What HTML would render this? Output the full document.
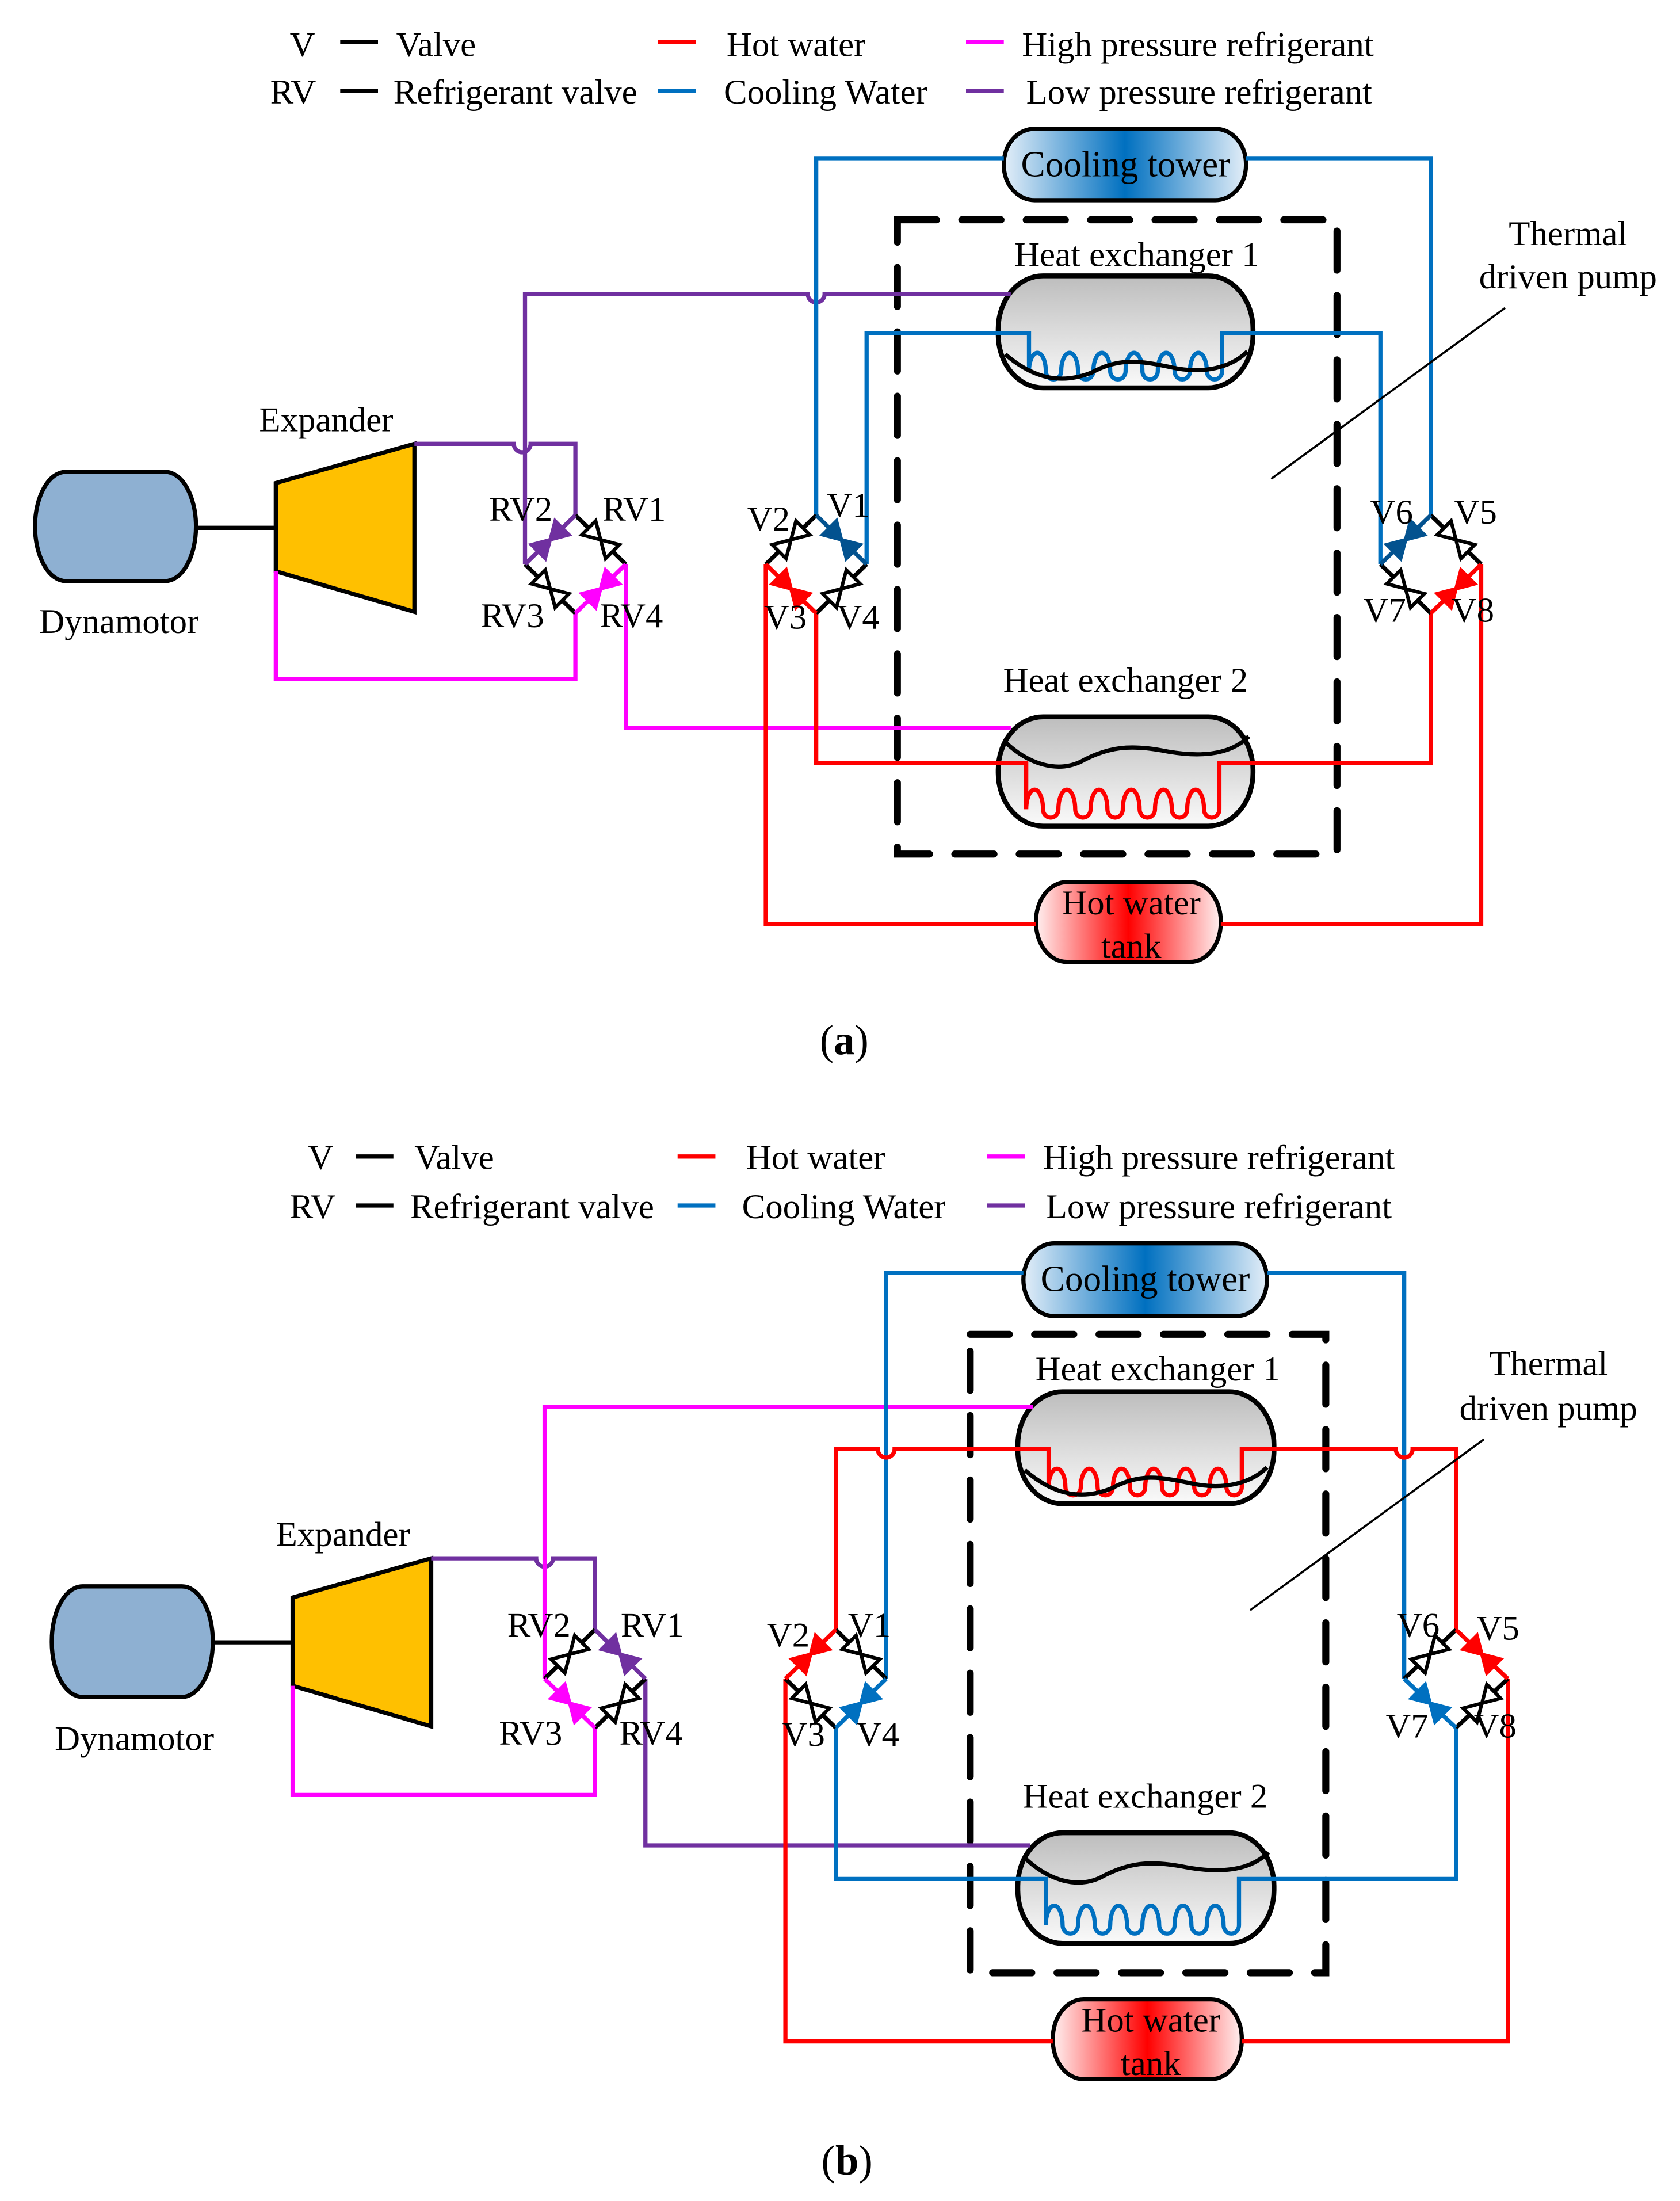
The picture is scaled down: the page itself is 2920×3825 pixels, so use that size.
<!DOCTYPE html>
<html><head><meta charset="utf-8"><style>html,body{margin:0;padding:0;background:#fff}svg{display:block}text{font-family:"Liberation Serif","Times New Roman",serif}</style></head>
<body>
<svg xmlns="http://www.w3.org/2000/svg" width="2920" height="3825" viewBox="0 0 1200 1572" preserveAspectRatio="none" font-size="25">
<defs>
<linearGradient id="ct" x1="0" x2="1" y1="0" y2="0"><stop offset="0" stop-color="#e3eef8"/><stop offset="0.5" stop-color="#0070c0"/><stop offset="1" stop-color="#e3eef8"/></linearGradient>
<linearGradient id="tk" x1="0" x2="1" y1="0" y2="0"><stop offset="0" stop-color="#fff0f0"/><stop offset="0.5" stop-color="#ff0000"/><stop offset="1" stop-color="#fff0f0"/></linearGradient>
<linearGradient id="hx" x1="0" x2="0" y1="0" y2="1"><stop offset="0" stop-color="#bdbdbd"/><stop offset="1" stop-color="#fafafa"/></linearGradient>
<path id="bow" d="M-12,-7 L0,0 L-12,7 Z M12,-7 L0,0 L12,7 Z"/>
</defs>
<rect width="1200" height="1572" fill="#fff"/>

<!-- ================= (a) ================= -->
<g>
<text x="207" y="40">V</text><text x="283" y="40">Valve</text>
<text x="193" y="74">RV</text><text x="281" y="74">Refrigerant valve</text>
<text x="519" y="40">Hot water</text><text x="517" y="74">Cooling Water</text>
<text x="730" y="40">High pressure refrigerant</text><text x="733" y="74">Low pressure refrigerant</text>
<g stroke-width="3"><line x1="243" y1="30" x2="270" y2="30" stroke="#000"/><line x1="243" y1="65" x2="270" y2="65" stroke="#000"/>
<line x1="470" y1="30" x2="497" y2="30" stroke="#ff0000"/><line x1="470" y1="65" x2="497" y2="65" stroke="#0070c0"/>
<line x1="690" y1="30" x2="717" y2="30" stroke="#ff00ff"/><line x1="690" y1="65" x2="717" y2="65" stroke="#7030a0"/></g>

<rect x="641" y="157" width="314" height="453" fill="none" stroke="#000" stroke-width="5" stroke-dasharray="28 18" stroke-linecap="round"/>

<rect x="25" y="337" width="115" height="78" rx="22" ry="39" fill="#8eb0d2" stroke="#000" stroke-width="3"/>
<line x1="140" y1="377" x2="197" y2="377" stroke="#000" stroke-width="3"/>
<polygon points="197,345 296,317 296,437 197,408" fill="#ffc000" stroke="#000" stroke-width="3"/>
<text x="233" y="308" text-anchor="middle">Expander</text>
<text x="85" y="452" text-anchor="middle">Dynamotor</text>
<rect x="717" y="92" width="173" height="51" rx="22" ry="25" fill="url(#ct)" stroke="#000" stroke-width="3"/>
<text x="804" y="126" text-anchor="middle" font-size="26">Cooling tower</text>
<rect x="713" y="197" width="182" height="80" rx="32" ry="38" fill="url(#hx)" stroke="#000" stroke-width="3.5"/>
<text x="812" y="190" text-anchor="middle">Heat exchanger 1</text>
<rect x="713" y="512" width="182" height="78" rx="32" ry="38" fill="url(#hx)" stroke="#000" stroke-width="3.5"/>
<text x="804" y="494" text-anchor="middle">Heat exchanger 2</text>
<rect x="740" y="630" width="132" height="57" rx="22" ry="28" fill="url(#tk)" stroke="#000" stroke-width="3"/>
<text x="808" y="653" text-anchor="middle">Hot water</text><text x="808" y="684" text-anchor="middle">tank</text>

<g fill="none" stroke-width="3">
<path stroke="#7030a0" d="M296,317 H367 a6,6 0 0 0 12,0 H411 V368"/>
<path stroke="#7030a0" d="M375,403 V210 H577 a6,6 0 0 0 12,0 H722"/>
<path stroke="#ff00ff" d="M197,408 V485 H411 V438"/>
<path stroke="#ff00ff" d="M447,403 V520 H722"/>
<path stroke="#0070c0" d="M717,113 H583 V368"/>
<path stroke="#0070c0" d="M890,113 H1022 V368"/>
<path stroke="#0070c0" d="M619,403 V238 H735 V265 a6,13 0 0 1 12,0 a5.5,6 0 0 0 11,0 a6,13 0 0 1 12,0 a5.5,6 0 0 0 11,0 a6,13 0 0 1 12,0 a5.5,6 0 0 0 11,0 a6,13 0 0 1 12,0 a5.5,6 0 0 0 11,0 a6,13 0 0 1 12,0 a5.5,6 0 0 0 11,0 a6,13 0 0 1 12,0 a5.5,6 0 0 0 11,0 V238 H986 V403"/>
<path stroke="#ff0000" d="M547,403 V660 H740"/>
<path stroke="#ff0000" d="M872,660 H1058 V403"/>
<path stroke="#ff0000" d="M583,438 V545 H733 V578 a6,14 0 0 1 12,0 a5.5,6 0 0 0 11,0 a6,14 0 0 1 12,0 a5.5,6 0 0 0 11,0 a6,14 0 0 1 12,0 a5.5,6 0 0 0 11,0 a6,14 0 0 1 12,0 a5.5,6 0 0 0 11,0 a6,14 0 0 1 12,0 a5.5,6 0 0 0 11,0 a6,14 0 0 1 12,0 a5.5,6 0 0 0 11,0 V545 H1022 V438"/>
<path stroke="#000" d="M718,253 C740,272 760,274 780,266 C800,255 815,258 835,262 C860,268 880,262 891,251"/>
<path stroke="#000" d="M718,530 C735,546 755,552 772,544 C792,533 808,532 830,536 C860,542 880,538 892,526"/>
</g>

<g stroke-width="3" fill="none" stroke="#000">
<path d="M411,368 L447,403 M375,403 L411,438"/>
<path stroke="#7030a0" d="M411,368 L375,403"/><path stroke="#ff00ff" d="M411,438 L447,403"/>
<path d="M583,368 L547,403 M583,438 L619,403"/>
<path stroke="#03528f" d="M583,368 L619,403"/><path stroke="#ff0000" d="M547,403 L583,438"/>
<path d="M1022,368 L1058,403 M986,403 L1022,438"/>
<path stroke="#03528f" d="M1022,368 L986,403"/><path stroke="#ff0000" d="M1022,438 L1058,403"/>
</g>
<g stroke-width="2.5" stroke-linejoin="miter">
<use href="#bow" transform="translate(393,385.5) rotate(135)" fill="#7030a0" stroke="#7030a0"/>
<use href="#bow" transform="translate(429,385.5) rotate(45)" fill="#fff" stroke="#000"/>
<use href="#bow" transform="translate(393,420.5) rotate(45)" fill="#fff" stroke="#000"/>
<use href="#bow" transform="translate(429,420.5) rotate(135)" fill="#ff00ff" stroke="#ff00ff"/>
<use href="#bow" transform="translate(565,385.5) rotate(135)" fill="#fff" stroke="#000"/>
<use href="#bow" transform="translate(601,385.5) rotate(45)" fill="#03528f" stroke="#03528f"/>
<use href="#bow" transform="translate(565,420.5) rotate(45)" fill="#ff0000" stroke="#ff0000"/>
<use href="#bow" transform="translate(601,420.5) rotate(135)" fill="#fff" stroke="#000"/>
<use href="#bow" transform="translate(1004,385.5) rotate(135)" fill="#03528f" stroke="#03528f"/>
<use href="#bow" transform="translate(1040,385.5) rotate(45)" fill="#fff" stroke="#000"/>
<use href="#bow" transform="translate(1004,420.5) rotate(45)" fill="#fff" stroke="#000"/>
<use href="#bow" transform="translate(1040,420.5) rotate(135)" fill="#ff0000" stroke="#ff0000"/>
</g>
<g text-anchor="middle">
<text x="372" y="372">RV2</text><text x="453" y="372">RV1</text><text x="366" y="448">RV3</text><text x="451" y="448">RV4</text>
<text x="549" y="379">V2</text><text x="606" y="369">V1</text><text x="561" y="449">V3</text><text x="613" y="449">V4</text>
<text x="994" y="374">V6</text><text x="1054" y="374">V5</text><text x="989" y="444">V7</text><text x="1052" y="444">V8</text>
<text x="1120" y="175">Thermal</text><text x="1120" y="206">driven pump</text>
</g>
<line x1="1075" y1="220" x2="908" y2="342" stroke="#000" stroke-width="1.5"/>
<text x="603" y="753" text-anchor="middle" font-size="30">(<tspan font-weight="bold">a</tspan>)</text>
</g>

<!-- ================= (b) ================= -->
<g>
<text x="220" y="835">V</text><text x="296" y="835">Valve</text>
<text x="207" y="870">RV</text><text x="293" y="870">Refrigerant valve</text>
<text x="533" y="835">Hot water</text><text x="530" y="870">Cooling Water</text>
<text x="745" y="835">High pressure refrigerant</text><text x="747" y="870">Low pressure refrigerant</text>
<g stroke-width="3"><line x1="254" y1="826" x2="281" y2="826" stroke="#000"/><line x1="254" y1="861" x2="281" y2="861" stroke="#000"/>
<line x1="484" y1="826" x2="511" y2="826" stroke="#ff0000"/><line x1="484" y1="861" x2="511" y2="861" stroke="#0070c0"/>
<line x1="705" y1="826" x2="732" y2="826" stroke="#ff00ff"/><line x1="705" y1="861" x2="732" y2="861" stroke="#7030a0"/></g>

<rect x="693" y="953" width="254" height="456" fill="none" stroke="#000" stroke-width="5" stroke-dasharray="28 18" stroke-linecap="round"/>

<rect x="37" y="1133" width="115" height="79" rx="22" ry="39" fill="#8eb0d2" stroke="#000" stroke-width="3"/>
<line x1="152" y1="1173" x2="209" y2="1173" stroke="#000" stroke-width="3"/>
<polygon points="209,1141 308,1113 308,1233 209,1204" fill="#ffc000" stroke="#000" stroke-width="3"/>
<text x="245" y="1104" text-anchor="middle">Expander</text>
<text x="96" y="1250" text-anchor="middle">Dynamotor</text>
<rect x="731" y="888" width="174" height="52" rx="22" ry="26" fill="url(#ct)" stroke="#000" stroke-width="3"/>
<text x="818" y="922" text-anchor="middle" font-size="26">Cooling tower</text>
<rect x="727" y="994" width="183" height="80" rx="32" ry="38" fill="url(#hx)" stroke="#000" stroke-width="3.5"/>
<text x="827" y="986" text-anchor="middle">Heat exchanger 1</text>
<rect x="727" y="1309" width="183" height="79" rx="32" ry="38" fill="url(#hx)" stroke="#000" stroke-width="3.5"/>
<text x="818" y="1291" text-anchor="middle">Heat exchanger 2</text>
<rect x="752" y="1428" width="135" height="57" rx="22" ry="28" fill="url(#tk)" stroke="#000" stroke-width="3"/>
<text x="822" y="1451" text-anchor="middle">Hot water</text><text x="822" y="1482" text-anchor="middle">tank</text>

<g fill="none" stroke-width="3">
<path stroke="#7030a0" d="M308,1113 H383 a6,6 0 0 0 12,0 H425 V1164"/>
<path stroke="#ff00ff" d="M389,1199 V1005 H738"/>
<path stroke="#ff00ff" d="M209,1204 V1282 H425 V1234"/>
<path stroke="#7030a0" d="M461,1199 V1318 H736"/>
<path stroke="#0070c0" d="M731,909 H633 V1199"/>
<path stroke="#0070c0" d="M905,909 H1003 V1199"/>
<path stroke="#0070c0" d="M597,1234 V1342 H747 V1375 a6,14 0 0 1 12,0 a5.5,6 0 0 0 11,0 a6,14 0 0 1 12,0 a5.5,6 0 0 0 11,0 a6,14 0 0 1 12,0 a5.5,6 0 0 0 11,0 a6,14 0 0 1 12,0 a5.5,6 0 0 0 11,0 a6,14 0 0 1 12,0 a5.5,6 0 0 0 11,0 a6,14 0 0 1 12,0 a5.5,6 0 0 0 11,0 V1342 H1040 V1234"/>
<path stroke="#ff0000" d="M597,1164 V1035 H627 a6,6 0 0 0 12,0 H749 V1062 a6,13 0 0 1 12,0 a5.5,6 0 0 0 11,0 a6,13 0 0 1 12,0 a5.5,6 0 0 0 11,0 a6,13 0 0 1 12,0 a5.5,6 0 0 0 11,0 a6,13 0 0 1 12,0 a5.5,6 0 0 0 11,0 a6,13 0 0 1 12,0 a5.5,6 0 0 0 11,0 a6,13 0 0 1 12,0 a5.5,6 0 0 0 11,0 V1035 H997 a6,6 0 0 0 12,0 H1040 V1164"/>
<path stroke="#ff0000" d="M561,1199 V1458 H752"/>
<path stroke="#ff0000" d="M887,1458 H1077 V1199"/>
<path stroke="#000" d="M732,1050 C754,1069 774,1071 794,1063 C814,1052 829,1055 849,1059 C874,1065 894,1059 905,1048"/>
<path stroke="#000" d="M732,1327 C749,1343 769,1349 786,1341 C806,1330 822,1329 844,1333 C874,1339 894,1335 906,1323"/>
</g>

<g stroke-width="3" fill="none" stroke="#000">
<path d="M425,1164 L389,1199 M425,1234 L461,1199"/>
<path stroke="#7030a0" d="M425,1164 L461,1199"/><path stroke="#ff00ff" d="M389,1199 L425,1234"/>
<path d="M597,1164 L633,1199 M561,1199 L597,1234"/>
<path stroke="#ff0000" d="M597,1164 L561,1199"/><path stroke="#0070c0" d="M597,1234 L633,1199"/>
<path d="M1040,1164 L1003,1199 M1040,1234 L1077,1199"/>
<path stroke="#ff0000" d="M1040,1164 L1077,1199"/><path stroke="#0070c0" d="M1003,1199 L1040,1234"/>
</g>
<g stroke-width="2.5" stroke-linejoin="miter">
<use href="#bow" transform="translate(407,1181.5) rotate(135)" fill="#fff" stroke="#000"/>
<use href="#bow" transform="translate(443,1181.5) rotate(45)" fill="#7030a0" stroke="#7030a0"/>
<use href="#bow" transform="translate(407,1216.5) rotate(45)" fill="#ff00ff" stroke="#ff00ff"/>
<use href="#bow" transform="translate(443,1216.5) rotate(135)" fill="#fff" stroke="#000"/>
<use href="#bow" transform="translate(579,1181.5) rotate(135)" fill="#ff0000" stroke="#ff0000"/>
<use href="#bow" transform="translate(615,1181.5) rotate(45)" fill="#fff" stroke="#000"/>
<use href="#bow" transform="translate(579,1216.5) rotate(45)" fill="#fff" stroke="#000"/>
<use href="#bow" transform="translate(615,1216.5) rotate(135)" fill="#0070c0" stroke="#0070c0"/>
<use href="#bow" transform="translate(1021.5,1181.5) rotate(135)" fill="#fff" stroke="#000"/>
<use href="#bow" transform="translate(1058.5,1181.5) rotate(45)" fill="#ff0000" stroke="#ff0000"/>
<use href="#bow" transform="translate(1021.5,1216.5) rotate(45)" fill="#0070c0" stroke="#0070c0"/>
<use href="#bow" transform="translate(1058.5,1216.5) rotate(135)" fill="#fff" stroke="#000"/>
</g>
<g text-anchor="middle">
<text x="385" y="1169">RV2</text><text x="466" y="1169">RV1</text><text x="379" y="1246">RV3</text><text x="465" y="1246">RV4</text>
<text x="563" y="1176">V2</text><text x="621" y="1169">V1</text><text x="574" y="1247">V3</text><text x="627" y="1247">V4</text>
<text x="1013" y="1169">V6</text><text x="1070" y="1171">V5</text><text x="1005" y="1241">V7</text><text x="1068" y="1241">V8</text>
<text x="1106" y="982">Thermal</text><text x="1106" y="1014">driven pump</text>
</g>
<line x1="1060" y1="1028" x2="893" y2="1150" stroke="#000" stroke-width="1.5"/>
<text x="605" y="1553" text-anchor="middle" font-size="30">(<tspan font-weight="bold">b</tspan>)</text>
</g>
</svg>
</body></html>
